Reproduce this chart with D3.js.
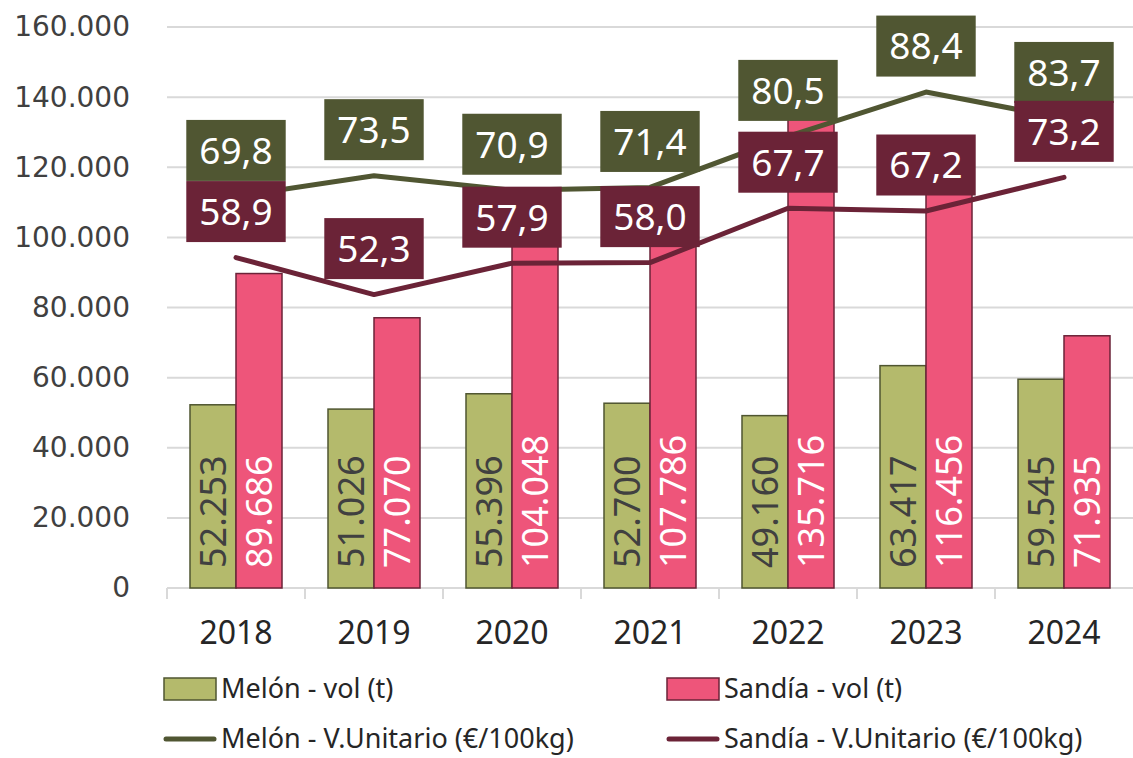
<!DOCTYPE html>
<html>
<head>
<meta charset="utf-8">
<script src="https://cdn.jsdelivr.net/npm/d3@7"></script>
<style>
  body { margin: 0; background: #fff; }
  svg { display: block; }
</style>
</head>
<body>
<div id="plot"></div>
<script>
// datos
const years = ["2018", "2019", "2020", "2021", "2022", "2023", "2024"];
const melonVol = [52253, 51026, 55396, 52700, 49160, 63417, 59545];
const sandiaVol = [89686, 77070, 104048, 107786, 135716, 116456, 71935];
const melonPrice = [69.8, 73.5, 70.9, 71.4, 80.5, 88.4, 83.7];
const sandiaPrice = [58.9, 52.3, 57.9, 58.0, 67.7, 67.2, 73.2];
const yTicks = [0, 20000, 40000, 60000, 80000, 100000, 120000, 140000, 160000];

const colors = {
  melonBar: "#B4BA6C", melonEdge: "#4F5530",
  sandiaBar: "#EE557A", sandiaEdge: "#6B2338",
  melonLine: "#505632", sandiaLine: "#6B2337"
};

const es = d3.formatLocale({ decimal: ",", thousands: ".", grouping: [3], currency: ["", "€"] });
const fmtInt = es.format(",d");
const fmtDec = es.format(".1f");

const W = 1133, H = 758;
const plotLeft = 167, plotRight = 1133, plotTop = 27, plotBottom = 588;

const svg = d3.select("#plot").append("svg")
  .attr("width", W).attr("height", H);

const x = d3.scaleBand().domain(years).range([plotLeft, plotRight]).padding(0);
const xSub = d3.scaleBand().domain(["melon", "sandia"])
  .range([0, x.bandwidth()]).paddingInner(0).paddingOuter(0.5);
const y = d3.scaleLinear().domain([0, 160000]).range([plotBottom, plotTop]);
const y2 = d3.scaleLinear().domain([0, 100]).range([plotBottom, plotTop]);

// rejilla
svg.append("g").selectAll("line")
  .data(yTicks.filter(d => d > 0))
  .join("line")
  .attr("x1", plotLeft).attr("x2", plotRight)
  .attr("y1", d => y(d)).attr("y2", d => y(d))
  .attr("stroke", "#D9D9D9").attr("stroke-width", 2);

// eje Y
svg.append("g")
  .attr("transform", `translate(130,0)`)
  .call(d3.axisLeft(y).tickValues(yTicks).tickFormat(d => fmtInt(d)).tickSize(0).tickPadding(0))
  .call(g => g.select(".domain").remove())
  .selectAll("text")
  .attr("font-family", "DejaVu Sans")
  .attr("font-size", 28)
  .attr("fill", "#404040");

// eje X
const xAxis = svg.append("g").attr("transform", `translate(0,${plotBottom})`);
xAxis.append("line")
  .attr("x1", plotLeft).attr("x2", plotRight)
  .attr("stroke", "#D9D9D9").attr("stroke-width", 2);
xAxis.selectAll(".tk")
  .data(years)
  .join("line")
  .attr("class", "tk")
  .attr("x1", d => x(d)).attr("x2", d => x(d))
  .attr("y1", 0).attr("y2", 11)
  .attr("stroke", "#D9D9D9").attr("stroke-width", 2);
xAxis.selectAll(".yl")
  .data(years)
  .join("text")
  .attr("class", "yl")
  .attr("x", d => x(d) + x.bandwidth() / 2)
  .attr("y", 45)
  .attr("dy", "0.35em")
  .attr("text-anchor", "middle")
  .attr("font-family", "Noto Sans")
  .attr("font-size", 32)
  .attr("fill", "#262626")
  .text(d => d);

// barras
const barData = years.flatMap((yr, i) => [
  { year: yr, key: "melon", v: melonVol[i] },
  { year: yr, key: "sandia", v: sandiaVol[i] }
]);

svg.append("g").selectAll("rect")
  .data(barData)
  .join("rect")
  .attr("x", d => x(d.year) + xSub(d.key))
  .attr("y", d => y(d.v))
  .attr("width", xSub.bandwidth())
  .attr("height", d => plotBottom - y(d.v))
  .attr("fill", d => d.key === "melon" ? colors.melonBar : colors.sandiaBar)
  .attr("stroke", d => d.key === "melon" ? colors.melonEdge : colors.sandiaEdge)
  .attr("stroke-width", 1.5);

svg.append("g").selectAll("text")
  .data(barData)
  .join("text")
  .attr("transform", d => `translate(${x(d.year) + xSub(d.key) + xSub.bandwidth() / 2},${plotBottom - 20}) rotate(-90)`)
  .attr("dy", "0.36em")
  .attr("font-family", "Noto Sans")
  .attr("font-size", 36)
  .attr("fill", d => d.key === "melon" ? "#404040" : "#ffffff")
  .text(d => fmtInt(d.v));

// líneas
const line = d3.line()
  .x((d, i) => x(years[i]) + x.bandwidth() / 2)
  .y(d => y2(d));

svg.append("path").datum(melonPrice)
  .attr("d", line).attr("fill", "none")
  .attr("stroke", colors.melonLine).attr("stroke-width", 5)
  .attr("stroke-linejoin", "round").attr("stroke-linecap", "round");
svg.append("path").datum(sandiaPrice)
  .attr("d", line).attr("fill", "none")
  .attr("stroke", colors.sandiaLine).attr("stroke-width", 5)
  .attr("stroke-linejoin", "round").attr("stroke-linecap", "round");

// etiquetas de las líneas
function priceLabels(values, color) {
  const g = svg.append("g").selectAll("g")
    .data(values)
    .join("g")
    .attr("transform", (d, i) => `translate(${x(years[i]) + x.bandwidth() / 2},${y2(d) - 46})`);
  g.append("rect").attr("fill", color);
  const texts = g.append("text")
    .attr("text-anchor", "middle")
    .attr("dy", "0.36em")
    .attr("font-family", "Noto Sans")
    .attr("font-size", 37)
    .attr("fill", "#ffffff")
    .text(d => fmtDec(d));
  texts.each(function () {
    const w = this.getBBox().width + 26;
    d3.select(this.parentNode).select("rect")
      .attr("x", -w / 2).attr("y", -30.5)
      .attr("width", w).attr("height", 61);
  });
}
priceLabels(melonPrice, colors.melonLine);
priceLabels(sandiaPrice, colors.sandiaLine);

// leyenda
const legend = [
  { label: "Melón - vol (t)", type: "bar", fill: colors.melonBar, stroke: colors.melonEdge, x: 163, y: 689 },
  { label: "Sandía - vol (t)", type: "bar", fill: colors.sandiaBar, stroke: colors.sandiaEdge, x: 666, y: 689 },
  { label: "Melón - V.Unitario (€/100kg)", type: "line", stroke: colors.melonLine, x: 163, y: 739 },
  { label: "Sandía - V.Unitario (€/100kg)", type: "line", stroke: colors.sandiaLine, x: 666, y: 739 }
];
const lg = svg.append("g").selectAll("g")
  .data(legend)
  .join("g")
  .attr("transform", d => `translate(${d.x},${d.y})`);
lg.filter(d => d.type === "bar").append("rect")
  .attr("x", 1).attr("y", -11).attr("width", 52).attr("height", 22)
  .attr("fill", d => d.fill).attr("stroke", d => d.stroke).attr("stroke-width", 1.5);
lg.filter(d => d.type === "line").append("line")
  .attr("x1", 3).attr("x2", 51).attr("y1", 0).attr("y2", 0)
  .attr("stroke", d => d.stroke).attr("stroke-width", 5).attr("stroke-linecap", "round");
lg.append("text")
  .attr("x", 58).attr("dy", "0.35em")
  .attr("font-family", "Noto Sans")
  .attr("font-size", 27)
  .attr("fill", "#262626")
  .text(d => d.label);
</script>
</body>
</html>
